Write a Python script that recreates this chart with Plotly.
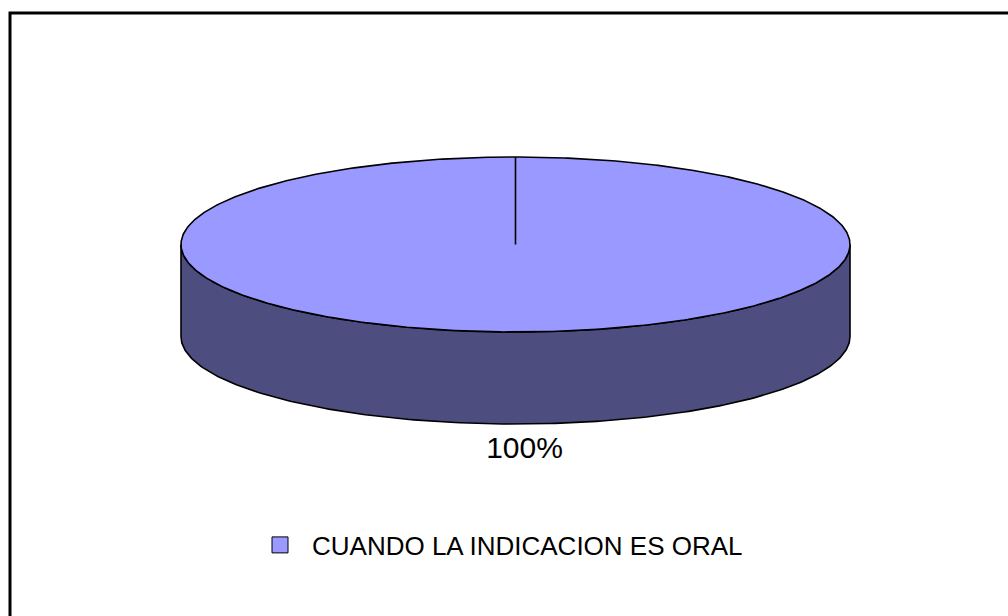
import numpy as np
import plotly.graph_objects as go

# ---- data ----
categories = ["CUANDO LA INDICACION ES ORAL"]
values = [100]
top_colors = ["#9999FF"]
side_colors = ["#4D4D80"]

# ---- geometry (pixel space of the figure) ----
W, H = 1008, 616
cx, cy = 515.5, 244.5
rx, ry = 334.5, 87.5
depth = 92
start_deg = 90.0  # first slice starts at 12 o'clock, clockwise

fig = go.Figure()

total = float(sum(values))
a = start_deg
slices = []
for cat, v, tc, sc in zip(categories, values, top_colors, side_colors):
    sweep = 360.0 * v / total
    a0, a1 = a, a - sweep  # clockwise
    slices.append((cat, v, tc, sc, a0, a1))
    a = a1


def ell(t_deg, dy=0.0):
    t = np.radians(t_deg)
    return cx + rx * np.cos(t), cy - ry * np.sin(t) + dy


# side faces (front half only: angles where sin < 0, i.e. 180..360)
for cat, v, tc, sc, a0, a1 in slices:
    lo, hi = min(a0, a1), max(a0, a1)
    segs = []
    for k in range(-2, 3):
        s0 = max(lo, 180 + 360 * k)
        s1 = min(hi, 360 + 360 * k)
        if s1 > s0:
            segs.append((s0, s1))
    for s0, s1 in segs:
        ts = np.linspace(s0, s1, 200)
        xt, yt = ell(ts)
        xb, yb = ell(ts[::-1], depth)
        xs = np.concatenate([xt, xb, xt[:1]])
        ys = np.concatenate([yt, yb, yt[:1]])
        fig.add_trace(go.Scatter(x=xs, y=ys, mode="lines", fill="toself",
                                 fillcolor=sc, line=dict(color="black", width=1.6),
                                 hoverinfo="skip", showlegend=False))

# top faces
for cat, v, tc, sc, a0, a1 in slices:
    ts = np.linspace(a0, a1, 600)
    xe, ye = ell(ts)
    xs = np.concatenate([[cx], xe, [cx]])
    ys = np.concatenate([[cy], ye, [cy]])
    fig.add_trace(go.Scatter(x=xs, y=ys, mode="lines", fill="toself",
                             fillcolor=tc, line=dict(color="black", width=1.6),
                             hoverinfo="skip", showlegend=False))

# percentage labels
for cat, v, tc, sc, a0, a1 in slices:
    mid = (a0 + a1) / 2.0
    lx, ly = ell(mid)
    if np.sin(np.radians(mid)) < 0:
        ly += depth
    lx += 9
    ly += 26
    fig.add_trace(go.Scatter(x=[lx], y=[ly], mode="text",
                             text=[f"{100 * v / total:.0f}%"],
                             textfont=dict(family="Liberation Sans, Arial", size=30, color="black"),
                             hoverinfo="skip", showlegend=False))

# legend entries
for cat, v, tc, sc, a0, a1 in slices:
    fig.add_trace(go.Scatter(x=[None], y=[None], mode="markers", name=cat,
                             marker=dict(symbol="square", size=16, color=tc,
                                         line=dict(color="black", width=1))))

fig.add_shape(type="rect", xref="paper", yref="paper",
              x0=10 / W, x1=1.05, y0=-0.05, y1=1 - 13 / H,
              line=dict(color="black", width=3), fillcolor="rgba(0,0,0,0)")

fig.update_layout(
    width=W, height=H, autosize=False,
    margin=dict(l=0, r=0, t=0, b=0, pad=0),
    paper_bgcolor="white", plot_bgcolor="white",
    xaxis=dict(range=[0, W], visible=False, fixedrange=True),
    yaxis=dict(range=[H, 0], visible=False, fixedrange=True),
    showlegend=True,
    legend=dict(x=248 / W, y=1 - 545 / H, xanchor="left", yanchor="middle",
                itemwidth=54, font=dict(family="Liberation Sans, Arial", size=26, color="black"),
                bgcolor="rgba(0,0,0,0)"),
)

fig.write_html("out.html", config={"displayModeBar": False},
               post_script="document.body.style.margin='0';document.body.style.overflow='hidden';")
